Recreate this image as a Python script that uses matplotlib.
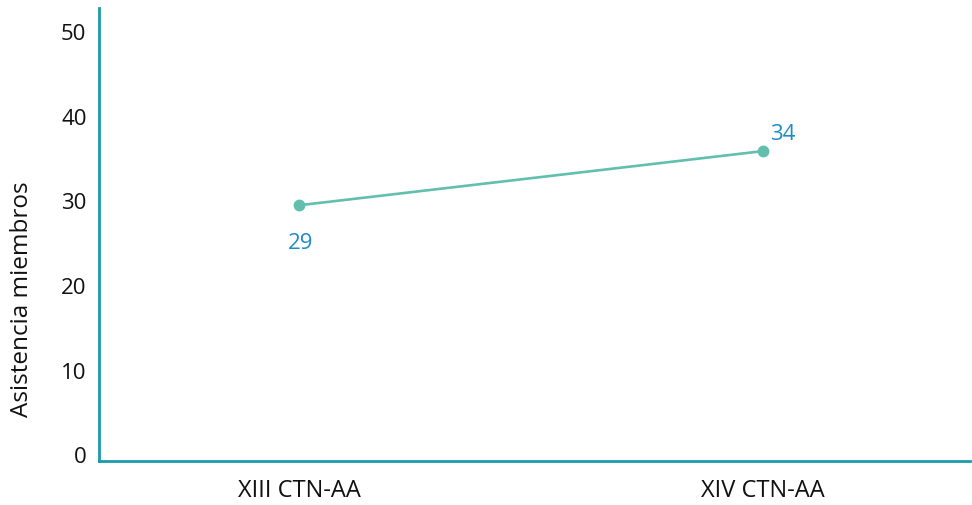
import matplotlib
matplotlib.use("Agg")
import matplotlib.pyplot as plt

categories = ["XIII CTN-AA", "XIV CTN-AA"]
values = [29.4, 35.8]          # plotted positions
value_labels = ["29", "34"]    # data label texts shown in the picture
yticks = [0, 10, 20, 30, 40, 50]

plt.rcParams['font.family'] = ['Open Sans', 'DejaVu Sans']

fig = plt.figure(figsize=(9.72, 5.06), dpi=100)
ax = fig.add_axes([99/972, 44/506, 871/972, 453/506])

x = list(range(len(categories)))
ax.plot(x, values, color="#62bfae", linewidth=1.9, marker="o", markersize=7.5,
        markerfacecolor="#62bfae", markeredgecolor="#62bfae", zorder=3)

label_color = "#1f8bc6"
ax.annotate(value_labels[0], (x[0], values[0]), xytext=(1, -27), textcoords="offset points",
            ha="center", va="center", fontsize=16, color=label_color)
ax.annotate(value_labels[1], (x[1], values[1]), xytext=(5, 13), textcoords="offset points",
            ha="left", va="center", fontsize=16, color=label_color)

ax.set_xlim(-0.431, 1.446)
ax.set_ylim(-0.8, 52.7)
ax.set_yticks(yticks)
ax.set_yticklabels([str(t) for t in yticks])
ax.set_xticks(x)
ax.set_xticklabels(categories)
ax.tick_params(axis="both", length=0, labelsize=16, colors="#111111")
ax.tick_params(axis="x", labelsize=17)
ax.tick_params(axis="y", pad=9)
ax.tick_params(axis="x", pad=12)

for s in ["top", "right"]:
    ax.spines[s].set_visible(False)
for s in ["left", "bottom"]:
    ax.spines[s].set_color("#1b9aaa")
    ax.spines[s].set_linewidth(2.0)

ax.set_ylabel("Asistencia miembros", fontsize=17.5, color="#111111")
ax.yaxis.set_label_coords(-65/871, 163/453)

fig.savefig("out.png", dpi=100)
